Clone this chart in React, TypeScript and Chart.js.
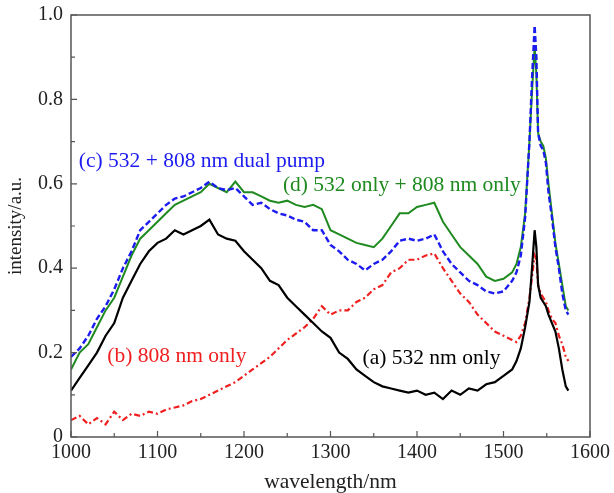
import React, { useEffect, useRef } from "react";
import { Chart, registerables } from "chart.js";

Chart.register(...registerables);

const wavelength = [
  1000, 1010, 1020, 1030, 1040, 1050, 1060, 1070, 1080, 1090,
  1100, 1110, 1120, 1130, 1140, 1150, 1160, 1170, 1180, 1190,
  1200, 1210, 1220, 1230, 1240, 1250, 1260, 1270, 1280, 1290,
  1300, 1310, 1320, 1330, 1340, 1350, 1360, 1370, 1380, 1390,
  1400, 1410, 1420, 1430, 1440, 1450, 1460, 1470, 1480, 1490,
  1500, 1510, 1515, 1520, 1525, 1530, 1533, 1536, 1538, 1540,
  1543, 1546, 1549, 1552, 1556, 1560, 1564, 1568, 1572, 1575,
];

const seriesA = [
  0.11, 0.14, 0.17, 0.2, 0.24, 0.27, 0.33, 0.37, 0.41, 0.44,
  0.46, 0.47, 0.49, 0.48, 0.49, 0.5, 0.515, 0.48, 0.47, 0.465,
  0.44, 0.42, 0.4, 0.37, 0.36, 0.33, 0.31, 0.29, 0.27, 0.25,
  0.235, 0.2, 0.185, 0.16, 0.145, 0.13, 0.12, 0.115, 0.11, 0.105,
  0.11, 0.1, 0.105, 0.09, 0.11, 0.1, 0.115, 0.11, 0.125, 0.13,
  0.145, 0.16, 0.18, 0.21, 0.26, 0.32, 0.4, 0.49, 0.45, 0.36,
  0.33, 0.32, 0.31, 0.29, 0.27, 0.25, 0.21, 0.16, 0.12, 0.11,
];

const seriesB = [
  0.04, 0.05, 0.03, 0.045, 0.03, 0.06, 0.04, 0.055, 0.05, 0.06,
  0.055, 0.065, 0.07, 0.075, 0.085, 0.09, 0.1, 0.11, 0.12, 0.13,
  0.145, 0.16, 0.175, 0.19, 0.21, 0.23, 0.245, 0.26, 0.28, 0.31,
  0.29, 0.3, 0.3, 0.32, 0.33, 0.35, 0.36, 0.39, 0.4, 0.42,
  0.42, 0.43, 0.435, 0.4, 0.37, 0.34, 0.32, 0.29, 0.27, 0.25,
  0.24, 0.23, 0.225, 0.24, 0.27, 0.33, 0.38, 0.43, 0.42, 0.36,
  0.34, 0.33, 0.32, 0.3, 0.28, 0.27, 0.24, 0.22, 0.19, 0.18,
];

const seriesC = [
  0.19, 0.21, 0.24, 0.28, 0.31, 0.35, 0.4, 0.44, 0.49, 0.51,
  0.53, 0.55, 0.565, 0.57, 0.58, 0.59, 0.605, 0.59, 0.585, 0.59,
  0.57, 0.55, 0.555, 0.54, 0.53, 0.525, 0.515, 0.51, 0.49, 0.49,
  0.455, 0.44, 0.42, 0.41, 0.395, 0.41, 0.42, 0.44, 0.465, 0.47,
  0.465, 0.47, 0.48, 0.44, 0.41, 0.39, 0.37, 0.36, 0.345, 0.34,
  0.345, 0.37, 0.39, 0.43, 0.52, 0.7, 0.85, 0.975, 0.9, 0.72,
  0.69, 0.68, 0.65, 0.58, 0.52, 0.45, 0.4, 0.34, 0.3, 0.29,
];

const seriesD = [
  0.16, 0.2, 0.22, 0.26, 0.3, 0.33, 0.38, 0.43, 0.47, 0.49,
  0.51, 0.53, 0.55, 0.56, 0.57, 0.58, 0.6, 0.59, 0.58, 0.605,
  0.58, 0.58, 0.57, 0.56, 0.555, 0.56, 0.55, 0.545, 0.55, 0.54,
  0.49, 0.48, 0.47, 0.46, 0.455, 0.45, 0.47, 0.5, 0.53, 0.53,
  0.545, 0.55, 0.555, 0.51, 0.48, 0.45, 0.43, 0.41, 0.38, 0.37,
  0.375, 0.39, 0.41, 0.45, 0.53, 0.7, 0.82, 0.925, 0.86, 0.72,
  0.7, 0.69, 0.66, 0.6, 0.53, 0.46, 0.41, 0.36, 0.31, 0.3,
];

const annotations = [
  { text: "(c) 532 + 808 nm dual pump", x: 1009, y: 0.652, color: "#1c1cf0" },
  { text: "(d) 532 only + 808 nm only", x: 1245, y: 0.597, color: "#1f8a1f" },
  { text: "(b) 808 nm only", x: 1042, y: 0.19, color: "#f02020" },
  { text: "(a) 532 nm only", x: 1337, y: 0.187, color: "#000000" },
];

const FONT = "'Liberation Serif', 'Times New Roman', serif";

const toPts = (ys: number[]) => ys.map((y, i) => ({ x: wavelength[i], y }));

const framePlugin = {
  id: "frame",
  afterDraw(chart: any) {
    const { ctx, chartArea: a, scales } = chart;
    const xs = scales.x;
    const ys = scales.y;
    ctx.save();
    ctx.strokeStyle = "#555555";
    ctx.lineWidth = 1.5;
    ctx.strokeRect(a.left, a.top, a.right - a.left, a.bottom - a.top);
    ctx.lineWidth = 1.2;
    ctx.beginPath();
    for (let v = 1000; v <= 1600; v += 50) {
      const px = xs.getPixelForValue(v);
      const len = v % 100 === 0 ? 6 : 4;
      ctx.moveTo(px, a.bottom);
      ctx.lineTo(px, a.bottom - len);
    }
    for (let k = 0; k <= 10; k++) {
      const v = k / 10;
      const py = ys.getPixelForValue(v);
      const len = k % 2 === 0 ? 6 : 4;
      ctx.moveTo(a.left, py);
      ctx.lineTo(a.left + len, py);
    }
    ctx.stroke();
    ctx.font = `21.5px ${FONT}`;
    ctx.textBaseline = "middle";
    ctx.textAlign = "left";
    for (const an of annotations) {
      ctx.fillStyle = an.color;
      ctx.fillText(an.text, xs.getPixelForValue(an.x), ys.getPixelForValue(an.y));
    }
    ctx.restore();
  },
};

export default function App() {
  const ref = useRef<HTMLCanvasElement>(null);
  useEffect(() => {
    document.body.style.margin = "0";
    const chart = new Chart(ref.current!, {
      type: "line",
      data: {
        datasets: [
          {
            label: "a",
            data: toPts(seriesA),
            borderColor: "#000000",
            borderWidth: 2.2,
            pointRadius: 0,
            tension: 0,
          },
          {
            label: "b",
            data: toPts(seriesB),
            borderColor: "#f02020",
            borderWidth: 2.2,
            borderDash: [6, 3, 2, 3],
            pointRadius: 0,
            tension: 0,
          },
          {
            label: "c",
            data: toPts(seriesC),
            borderColor: "#1c1cf0",
            borderWidth: 2.4,
            borderDash: [6, 3],
            pointRadius: 0,
            tension: 0,
          },
          {
            label: "d",
            data: toPts(seriesD),
            borderColor: "#1f8a1f",
            borderWidth: 2,
            pointRadius: 0,
            tension: 0,
          },
        ],
      },
      options: {
        animation: false,
        responsive: false,
        layout: { padding: { left: 0, right: 24, top: 15, bottom: 0 } },
        plugins: { legend: { display: false }, tooltip: { enabled: false } },
        scales: {
          x: {
            type: "linear",
            min: 1000,
            max: 1600,
            grid: { display: false, drawTicks: false },
            border: { display: false },
            afterFit: (s: any) => {
              s.height = 56;
              s.paddingLeft = 0;
              s.paddingRight = 0;
            },
            ticks: {
              stepSize: 100,
              color: "#222",
              font: { family: FONT, size: 20, lineHeight: 1 },
              padding: 6,
              maxRotation: 0,
              callback: (v: any) => String(v),
            },
            title: {
              display: true,
              text: "wavelength/nm",
              color: "#222",
              font: { family: FONT, size: 21.5, lineHeight: 1 },
              padding: { top: 0, bottom: 0 },
            },
          },
          y: {
            type: "linear",
            min: 0,
            max: 1,
            grid: { display: false, drawTicks: false },
            border: { display: false },
            afterFit: (s: any) => {
              s.width = 71;
              s.paddingTop = 0;
              s.paddingBottom = 0;
            },
            ticks: {
              stepSize: 0.2,
              color: "#222",
              font: { family: FONT, size: 20 },
              padding: 8,
              callback: (v: any) => (v === 0 ? "0" : Number(v).toFixed(1)),
            },
            title: {
              display: true,
              text: "intensity/a.u.",
              color: "#222",
              font: { family: FONT, size: 19 },
              padding: { top: 5, bottom: 0 },
            },
          },
        },
      },
      plugins: [framePlugin],
    });
    return () => chart.destroy();
  }, []);
  return <canvas ref={ref} width={614} height={493} style={{ display: "block" }} />;
}
